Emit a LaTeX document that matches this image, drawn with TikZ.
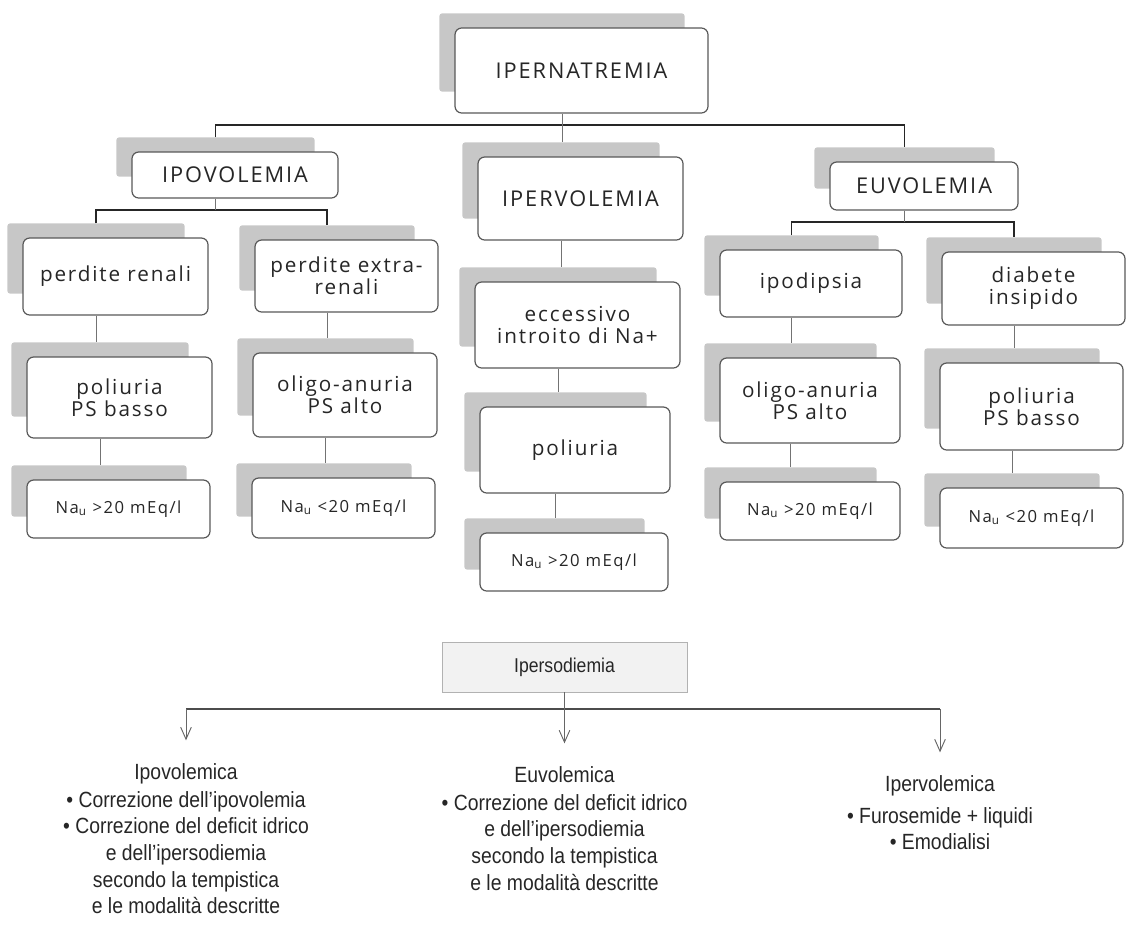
\documentclass[tikz,border=0pt]{standalone}
\usepackage{fontspec}
\newfontfamily\boxfont[LetterSpace=9]{Open Sans}
\newfontfamily\notefont[FakeStretch=0.88]{Liberation Sans}
\usetikzlibrary{arrows.meta,backgrounds}
\tikzset{vbox/.style={rectangle,rounded corners=5pt,draw=black!65,line width=0.9pt,fill=white,align=center,inner sep=2pt,text=black!85,font=\boxfont\fontsize{15.5}{16.5}\selectfont}}
\tikzset{capbox/.style={vbox,font=\boxfont\fontsize{16.3}{18}\selectfont}}
\tikzset{nabox/.style={vbox,font=\boxfont\fontsize{12.5}{14}\selectfont}}
\tikzset{wh/.style 2 args={minimum width=#1*0.75pt,minimum height=#2*0.75pt}}
\tikzset{backpage/.style={fill=black!22,rounded corners=2pt}}
\tikzset{rail/.style={line width=1.3pt,draw=black!85}}
\tikzset{link/.style={line width=0.6pt,draw=black!55}}
\tikzset{busline/.style={line width=0.9pt,draw=black!70}}
\tikzset{toArrow/.style={-{Straight Barb[length=9pt,width=8pt]},line width=0.7pt,draw=black!60,shorten >=17pt}}
\tikzset{note/.style={align=center,anchor=north,inner sep=0pt,text=black!85,font=\notefont\fontsize{16.5}{20}\selectfont}}

\begin{document}
\begin{tikzpicture}[x=0.75pt,y=-0.75pt]
\useasboundingbox (0,0) rectangle (1127,932);
% top levels
\node (iper)  [capbox, wh={253}{85}] at (581.5,70.5) {IPERNATREMIA};
\node (ipo)   [capbox, wh={206}{46}] at (235,175) {IPOVOLEMIA};
\node (hyper) [capbox, wh={205}{83}] at (580.5,198.5) {IPERVOLEMIA};
\node (euvo)  [capbox, wh={188}{48}] at (924,186) {EUVOLEMIA};
% ipovolemia
\node (renali) [vbox, wh={185}{77}] at (115.5,276.5) {perdite renali};
\node (extra)  [vbox, wh={183}{72}] at (346.5,276) {perdite extra-\\renali};
\node (poliA)  [vbox, wh={185}{81}] at (119.5,397.5) {poliuria\\PS basso};
\node (oligoA) [vbox, wh={184}{84}] at (345,395) {oligo-anuria\\PS alto};
\node (naA)    [nabox, wh={183}{58}] at (118.5,509) {Na\textsubscript{u} >20 mEq/l};
\node (naB)    [nabox, wh={183}{60}] at (343.5,508) {Na\textsubscript{u} <20 mEq/l};
% ipervolemia
\node (ecc)   [vbox, wh={205}{86}] at (577.5,325) {eccessivo\\introito di Na+};
\node (poliC) [vbox, wh={190}{86}] at (575,450) {poliuria};
\node (naC)   [nabox, wh={188}{58}] at (574,562) {Na\textsubscript{u} >20 mEq/l};
% euvolemia
\node (ipod)   [vbox, wh={182}{67}] at (811,283.5) {ipodipsia};
\node (diab)   [vbox, wh={183}{73}] at (1033.5,288.5) {diabete\\insipido};
\node (oligoB) [vbox, wh={180}{85}] at (810,400.5) {oligo-anuria\\PS alto};
\node (poliB)  [vbox, wh={183}{87}] at (1031.5,406.5) {poliuria\\PS basso};
\node (naD)    [nabox, wh={180}{58}] at (810,511) {Na\textsubscript{u} >20 mEq/l};
\node (naE)    [nabox, wh={183}{60}] at (1031.5,518) {Na\textsubscript{u} <20 mEq/l};

% grey pages behind the boxes
\foreach \n in {iper,ipo,hyper,euvo,renali,extra,poliA,oligoA,naA,naB,ecc,poliC,naC,ipod,diab,oligoB,poliB,naD,naE} {
  \begin{scope}[on background layer]
    \fill[backpage] ([shift={(-15,-14)}]\n.north west) rectangle ([shift={(-24,-22)}]\n.south east);
  \end{scope}
  \coordinate (\n-t) at ([shift={(-19.5,-14)}]\n.north);
  \coordinate (\n-b) at ([shift={(-19.5,0)}]\n.south);
}

\coordinate (bus0) at (561,125);
\coordinate (bus1) at (215,210);
\coordinate (bus2) at (904,222);
\draw[rail] (ipo-t) |- (bus0) -| (euvo-t);
\draw[link] (iper-b) -- (iper-b |- hyper-t);
\draw[rail] (renali-t) |- (bus1) -| (extra-t);
\draw[link] (ipo-b) -- (ipo-b |- bus1);
\draw[rail] (ipod-t) |- (bus2) -| (diab-t);
\draw[link] (euvo-b) -- (euvo-b |- bus2);
\foreach \a/\b in {renali/poliA,poliA/naA,extra/oligoA,oligoA/naB,hyper/ecc,ecc/poliC,poliC/naC,ipod/oligoB,oligoB/naD,diab/poliB,poliB/naE}
  \draw[link] (\a-b) -- (\a-b |- \b-t);

% therapy
\node (sodio) [draw=black!30,line width=0.4pt,fill=black!5,wh={245}{50},text=black!85,font=\notefont\fontsize{15}{18}\selectfont] at (564.5,667) {Ipersodiemia};
\coordinate (bus3) at (564.5,709);
\node (ipoT) [note] at (186,763) {Ipovolemica\\[1pt]• Correzione dell’ipovolemia\\• Correzione del deficit idrico\\e dell’ipersodiemia\\secondo la tempistica\\e le modalità descritte};
\node (euvT) [note] at (564.5,766) {Euvolemica\\[1pt]• Correzione del deficit idrico\\e dell’ipersodiemia\\secondo la tempistica\\e le modalità descritte};
\node (iperT) [note] at (940,775) {Ipervolemica\\[4pt]• Furosemide + liquidi\\• Emodialisi};
\draw[busline] (ipoT.north |- bus3) -- (iperT.north |- bus3);
\draw[toArrow] (ipoT.north |- bus3) -- (ipoT.north);
\draw[toArrow] (sodio.south) -- (euvT.north);
\draw[toArrow] (iperT.north |- bus3) -- (iperT.north);
\end{tikzpicture}
\end{document}
